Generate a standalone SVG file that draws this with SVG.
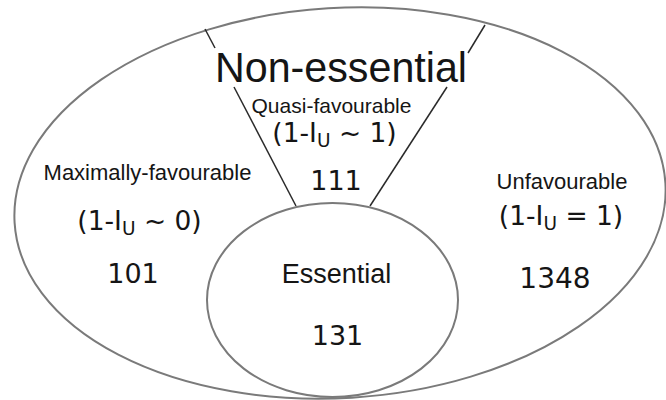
<svg xmlns="http://www.w3.org/2000/svg" width="666" height="400" viewBox="0 0 666 400">
<style>
.ell{fill:none;stroke:#7a7a7a;stroke-width:2}
.div{stroke:#2a2a2a;stroke-width:1.5;fill:none}
.lab{font-family:"Liberation Sans",Arial,sans-serif;fill:#151515;text-anchor:middle}
.num{font-family:"DejaVu Sans",Verdana,sans-serif;fill:#151515;text-anchor:middle}
.sub{font-size:0.7em}
</style>
<rect width="666" height="400" fill="#ffffff"/>
<g id="nonessential">
<ellipse class="ell" cx="340" cy="203" rx="326" ry="195" transform="rotate(-3.5 340 203)"/>
<text class="lab" x="341" y="82" font-size="42" textLength="252" lengthAdjust="spacingAndGlyphs">Non-essential</text>
</g>
<g id="connectors">
<line class="div" x1="205" y1="29" x2="215" y2="48"/>
<line class="div" x1="234" y1="87" x2="296" y2="206"/>
<line class="div" x1="485" y1="25" x2="468" y2="53"/>
<line class="div" x1="447" y1="87" x2="370" y2="206"/>
</g>
<g id="quasi">
<text class="lab" x="331.5" y="113" font-size="21">Quasi-favourable</text>
<text class="num" x="334.5" y="142" font-size="26.5">(1-I<tspan class="sub" dy="5">U</tspan><tspan dy="-5"> ~ 1)</tspan></text>
<text class="num" x="336" y="190" font-size="27">111</text>
</g>
<g id="maximally">
<text class="lab" x="147.5" y="180" font-size="22">Maximally-favourable</text>
<text class="num" x="139.5" y="230" font-size="26.5">(1-I<tspan class="sub" dy="5">U</tspan><tspan dy="-5"> ~ 0)</tspan></text>
<text class="num" x="133" y="283" font-size="27">101</text>
</g>
<g id="unfavourable">
<text class="lab" x="562" y="189" font-size="22">Unfavourable</text>
<text class="num" x="561" y="225" font-size="26.5">(1-I<tspan class="sub" dy="5">U</tspan><tspan dy="-5"> = 1)</tspan></text>
<text class="num" x="555" y="288" font-size="28">1348</text>
</g>
<g id="essential">
<ellipse class="ell" cx="332.5" cy="300" rx="125.5" ry="97"/>
<text class="lab" x="336.5" y="283" font-size="27">Essential</text>
<text class="num" x="337.5" y="345" font-size="27">131</text>
</g>
</svg>
